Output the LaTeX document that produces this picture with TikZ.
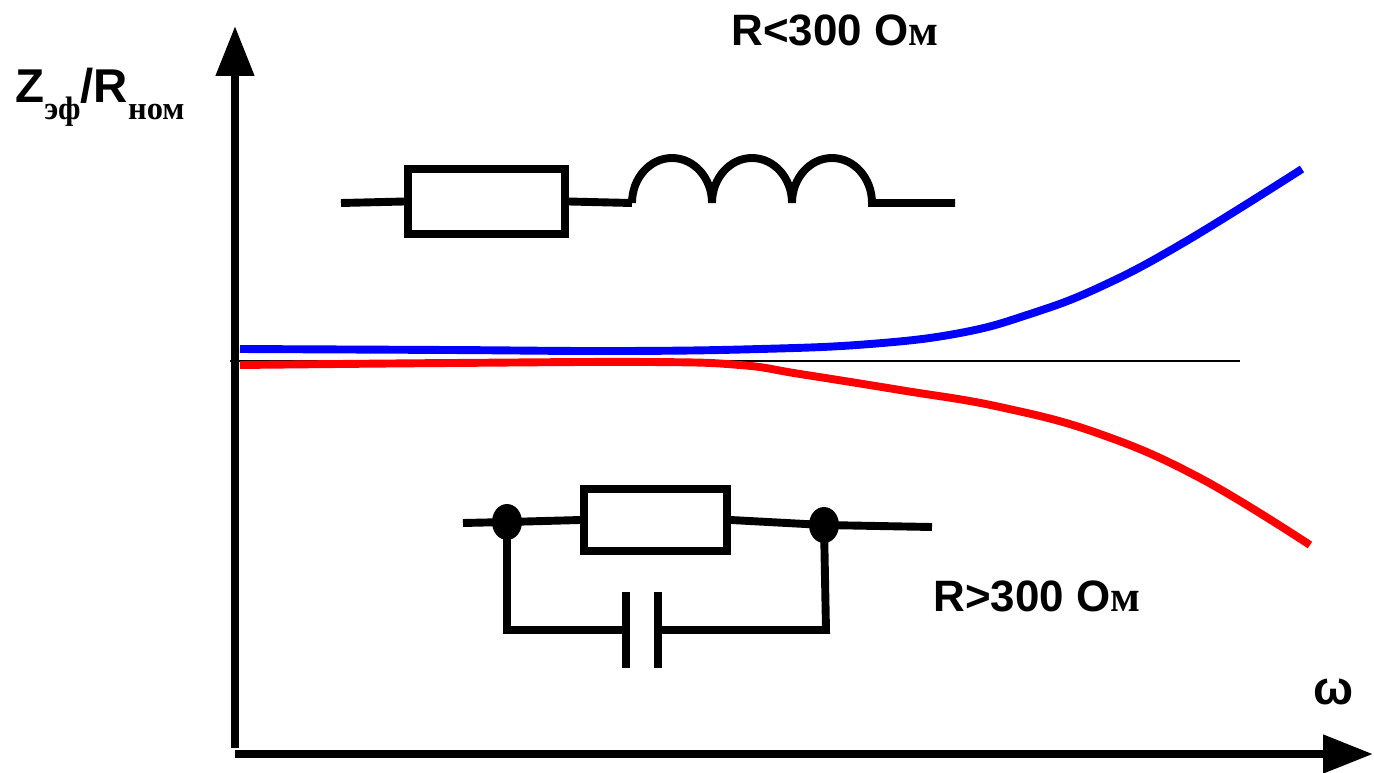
\documentclass[tikz,border=0pt]{standalone}
\usepackage{fontspec}
\setmainfont{Liberation Sans}
\newfontfamily\cyrserif{Liberation Serif}
\usetikzlibrary{shapes,arrows.meta}
\usetikzlibrary{positioning}

\tikzset{
  wire/.style={line width=4.5pt},
  axis/.style={line width=4.5pt, -{Triangle[length=1cm, width=0.74cm]}},
  resbox/.style={draw, line width=4.5pt, inner sep=0pt},
  junction/.style={ellipse, fill=black, minimum width=0.6cm, minimum height=0.72cm, inner sep=0pt},
  lbl/.style={font=\fontsize{25}{28}\selectfont\bfseries},
}

\begin{document}
\begin{tikzpicture}[x=0.02cm, y=-0.02cm]
    % Background
    \useasboundingbox (0,0) rectangle (1374,772);

    % Axes
    \coordinate (o) at (235,754);
    \coordinate (ytip) at (235,26);
    \coordinate (xtip) at (1373,754);
    \draw[axis] (235,748) -- (ytip);
    \draw[axis] (o) -- (xtip);

    \node[lbl, font=\fontsize{27}{28}\selectfont\bfseries, anchor=base west, inner sep=0pt] (ylab) at (15,102)
      {Z\raisebox{-10pt}{\cyrserif\fontsize{18.5}{19}\selectfont эф}/R\raisebox{-10pt}{\cyrserif\fontsize{18.5}{19}\selectfont ном}};
    \node[lbl, font=\fontsize{27}{28}\selectfont\bfseries] (wlab) at (1334,692) {ω};

    % Reference level
    \coordinate (refl) at (230,361);
    \coordinate (refr) at (1240,361);
    \draw[line width=1.1pt] (refl) -- (refr);

    % Curves
    \draw[wire, blue] plot[smooth, tension=0.7] coordinates {(240,349) (450,350) (620,351) (760,349) (870,344) (960,333) (1030,314) (1100,287) (1183,243) (1302,169)};
    \draw[wire, red] plot[smooth, tension=0.7] coordinates {(240,365) (450,363) (650,362) (740,365) (800,374) (900,390) (1000,407) (1100,434) (1200,478) (1310,545)};

    \node[lbl] (rlow) at (835,30) {R<300 О{\cyrserif м}};
    \node[lbl] (rhigh) at (1037,596) {R>300 О{\cyrserif м}};

    % Series R-L
    \node[resbox, minimum width=3.14cm, minimum height=1.3cm] (rtop) at (486.5,201.5) {};
    \coordinate (lin) at (341,203);
    \coordinate (coil) at (632,203);
    \coordinate (lout) at (955,203);
    \draw[wire] (lin) -- (rtop.west);
    \draw[wire] (rtop.east) -- (coil);
    \draw[wire] (coil)
    \foreach \k in {1,2,3}
      { arc[start angle=180, end angle=360, x radius=40, y radius=45] }
      -- (lout);

    % Parallel R-C
    \node[resbox, minimum width=2.86cm, minimum height=1.24cm] (rbot) at (655.5,520) {};
    \node[junction] (ja) at (507,522) {};
    \node[junction] (jb) at (824,525) {};
    \coordinate (cin) at (463,523);
    \coordinate (cout) at (932,527);
    \coordinate (ca) at (507,630);
    \coordinate (cb) at (826,630);
    \coordinate (pa) at (626,630);
    \coordinate (pb) at (658,630);
    \draw[wire] (cin) -- (ja.center) -- (rbot.west);
    \draw[wire] (rbot.east) -- (jb.center) -- (cout);
    \draw[wire] (ja.center) -- (ca) -- (pa);
    \draw[wire] (jb.center) -- (cb) -- (pb);
    \draw[wire] (626,592) -- (626,668);
    \draw[wire] (658,592) -- (658,668);
\end{tikzpicture}
\end{document}
